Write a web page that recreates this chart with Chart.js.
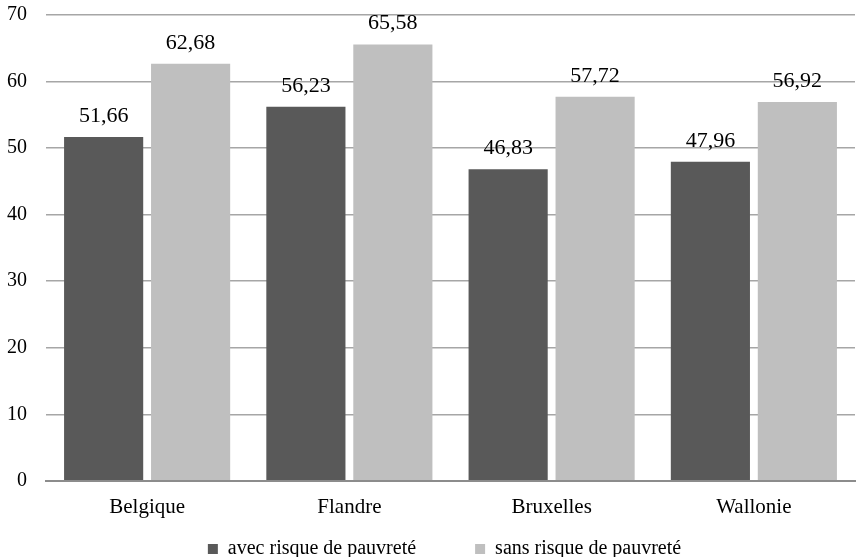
<!DOCTYPE html>
<html>
<head>
<meta charset="utf-8">
<script src="https://cdn.jsdelivr.net/npm/chart.js@4/dist/chart.umd.min.js"></script>
<style>
  html, body { margin: 0; padding: 0; background: #fff; }
  #wrap { width: 861px; height: 557px; }
</style>
</head>
<body>
<div id="wrap"><canvas id="chart" width="861" height="557"></canvas></div>
<script>
const categories = ["Belgique", "Flandre", "Bruxelles", "Wallonie"];
const avecRisque = [51.66, 56.23, 46.83, 47.96];
const sansRisque = [62.68, 65.58, 57.72, 56.92];
const seriesNames = ["avec risque de pauvreté", "sans risque de pauvreté"];

const serif = "'Liberation Serif', 'Times New Roman', serif";

// draw the value above each bar, French decimal comma
const valueLabels = {
  id: "valueLabels",
  afterDatasetsDraw(chart) {
    const ctx = chart.ctx;
    ctx.save();
    ctx.font = "22px " + serif;
    ctx.fillStyle = "#000";
    ctx.textAlign = "center";
    ctx.textBaseline = "alphabetic";
    chart.data.datasets.forEach((ds, i) => {
      chart.getDatasetMeta(i).data.forEach((bar, j) => {
        const text = ds.data[j].toFixed(2).replace(".", ",");
        ctx.fillText(text, bar.x, bar.y - 15);
      });
    });
    ctx.restore();
  },
};

// nudge the legend a bit to the right, like the original
const legendShift = {
  id: "legendShift",
  afterLayout(chart) {
    if (chart.legend) {
      chart.legend.left += 15;
      chart.legend.right += 15;
    }
  },
};

new Chart(document.getElementById("chart"), {
  type: "bar",
  data: {
    labels: categories,
    datasets: [
      {
        label: seriesNames[0],
        data: avecRisque,
        backgroundColor: "#595959",
        categoryPercentage: 0.86,
        barPercentage: 0.91,
      },
      {
        label: seriesNames[1],
        data: sansRisque,
        backgroundColor: "#bfbfbf",
        categoryPercentage: 0.86,
        barPercentage: 0.91,
      },
    ],
  },
  options: {
    responsive: false,
    animation: false,
    layout: { padding: { top: 0, right: 6, left: 4, bottom: -12 } },
    plugins: {
      legend: {
        position: "bottom",
        labels: {
          font: { family: serif, size: 20 },
          color: "#000",
          boxWidth: 10,
          boxHeight: 10,
          padding: 19,
          // wider gap between the two entries
          generateLabels(chart) {
            const items = Chart.defaults.plugins.legend.labels.generateLabels(chart);
            items[0].text += "\u2003\u2003";
            return items;
          },
        },
      },
      tooltip: { enabled: false },
    },
    scales: {
      x: {
        grid: { display: false, drawTicks: false },
        border: { color: "#8c8c8c", width: 2 },
        ticks: {
          font: { family: serif, size: 21 },
          color: "#000",
          padding: 14,
        },
        afterFit(axis) {
          axis.height -= 14;
        },
      },
      y: {
        min: 0,
        max: 70,
        ticks: {
          stepSize: 10,
          font: { family: serif, size: 20 },
          color: "#000",
          padding: 3,
        },
        grid: {
          color: "#a6a6a6",
          lineWidth: 1.5,
          drawTicks: true,
          tickLength: 16,
          tickColor: "rgba(0,0,0,0)",
        },
        border: { display: false },
      },
    },
  },
  plugins: [valueLabels, legendShift],
});
</script>
</body>
</html>
